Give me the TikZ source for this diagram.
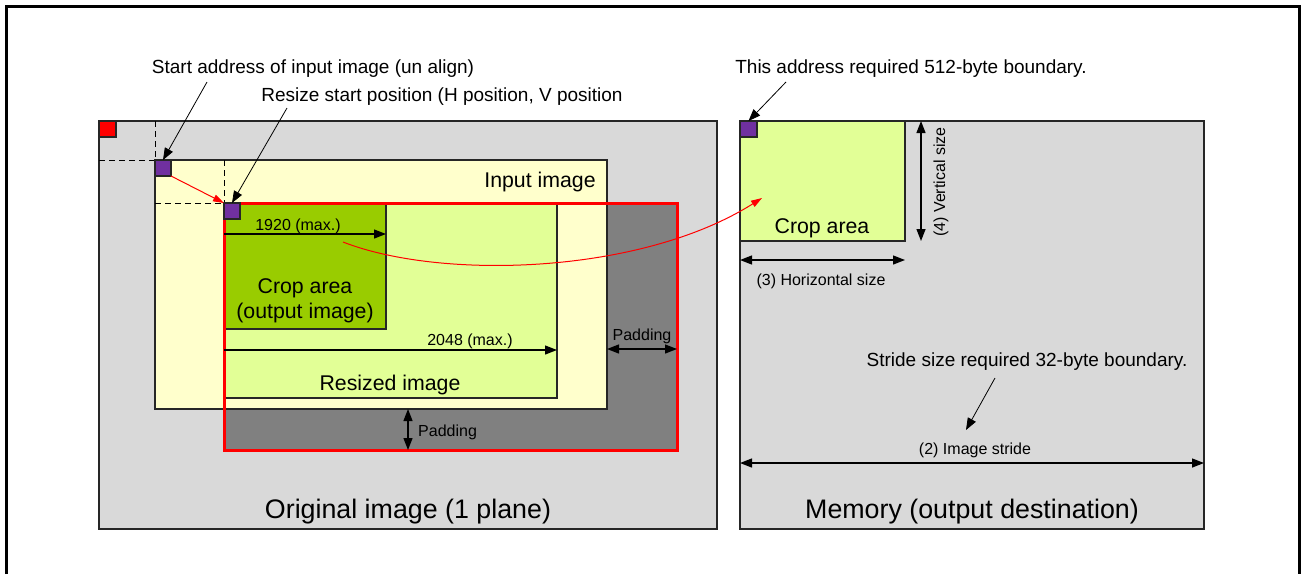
\documentclass[tikz,border=0pt]{standalone}
\usepackage{fontspec}
\setmainfont{Liberation Sans}
\usetikzlibrary{arrows.meta}
\definecolor{bggray}{HTML}{D9D9D9}
\definecolor{inyellow}{HTML}{FFFFCC}
\definecolor{resgreen}{HTML}{E2FF96}
\definecolor{cropgreen}{HTML}{99CC00}
\definecolor{padgray}{HTML}{808080}
\definecolor{purp}{HTML}{7030A0}
\definecolor{redc}{HTML}{FF0000}
\begin{document}
\begin{tikzpicture}[x=1pt,y=-1pt,
  box/.style={draw=black!85, line width=1.6pt, inner sep=0pt, outer sep=0pt, anchor=north west},
  sq/.style={box, minimum width=16, minimum height=16, fill=purp},
  ann/.style={font=\fontsize{19}{23}\selectfont, inner sep=0pt, yshift=-1pt},
  lbl/.style={font=\fontsize{16}{19}\selectfont, inner sep=0pt, yshift=-1pt},
  mid/.style={font=\fontsize{21.3}{25}\selectfont, inner sep=0pt, align=center, yshift=-2pt},
  big/.style={font=\fontsize{26.8}{31}\selectfont, inner sep=0pt, yshift=-3pt},
  dim/.style={line width=1.3pt, -{Triangle[length=12pt,width=9pt]}},
  ddim/.style={line width=1.3pt, {Triangle[length=12pt,width=9pt]}-{Triangle[length=12pt,width=9pt]}},
  pointer/.style={line width=0.8pt, -{Triangle[length=12pt,width=9pt]}},
  redarrow/.style={draw=redc, line width=1pt, -{Triangle[length=11pt,width=7pt]}, color=redc},
  guide/.style={dashed, line width=0.9pt, dash pattern=on 6pt off 4pt}
]
\useasboundingbox (0,0) rectangle (1301,574);
% outer frame
\draw[line width=3pt] (6,574) -- (6,6) -- (1299,6) -- (1299,574);

% ---------- left: original image ----------
\node[box, fill=bggray, minimum width=618, minimum height=408] (orig) at (99,121) {};
\node[box, fill=redc, minimum width=17, minimum height=16] (origsq) at (99,121) {};
\draw[guide] (orig.north west -| 155,0) -- (155,160);
\draw[guide] (orig.west |- 0,160) -- (155,160);

% padding region fill
\node[box, draw=none, fill=padgray, minimum width=453, minimum height=247] (padfill) at (224,203) {};
% input image
\node[box, fill=inyellow, minimum width=452, minimum height=249] (input) at (155,160) {};
\draw[guide] (224,160) -- (224,203);
\draw[guide] (155,203) -- (224,203);
% resized image
\node[box, fill=resgreen, minimum width=333, minimum height=195] (resized) at (224,203) {};
% crop area
\node[box, fill=cropgreen, minimum width=162, minimum height=126] (crop) at (224,203) {};
% red padding border
\node[box, draw=redc, line width=3pt, minimum width=453, minimum height=247] (pad) at (224,203) {};

\node[sq] (p1) at (155,160) {};
\node[sq] (p2) at (224,203) {};

% texts
\node[mid] (inlbl) at (540,180) {Input image};
\node[mid] (croplbl) at (305,299) {Crop area\\(output image)};
\node[mid] (reslbl) at (390,383) {Resized image};
\node[big] (origlbl) at (408,509) {Original image (1 plane)};

% dimension arrows
\coordinate (d1a) at (224,234);
\draw[dim] (d1a) -- (crop.east |- d1a);
\node[lbl] (l1920) at (298,225) {1920 (max.)};
\coordinate (d2a) at (224,350);
\draw[dim] (d2a) -- (resized.east |- d2a);
\node[lbl] (l2048) at (470,340) {2048 (max.)};
\coordinate (pha) at (607,349);
\draw[ddim] (input.east |- pha) -- (pad.east |- pha);
\node[lbl] (padh) at (642,335) {Padding};
\coordinate (pva) at (408,409);
\draw[ddim] (input.south -| pva) -- (pad.south -| pva);
\node[lbl, anchor=west] (padv) at (418,431) {Padding};

% annotations
\node[ann] (a1) at (313,68) {Start address of input image (un align)};
\node[ann] (a2) at (442,96) {Resize start position (H position, V position};
\coordinate (a1s) at (207,82);
\coordinate (a2s) at (287,108);
\draw[pointer] (a1s) -- (p1.north);
\draw[pointer] (a2s) -- (p2.north);
\draw[redarrow] (p1.south east) -- (p2.north west);

% ---------- right: memory ----------
\node[box, fill=bggray, minimum width=464, minimum height=408] (mem) at (740,121) {};
\node[box, fill=resgreen, minimum width=165, minimum height=120] (mcrop) at (740,121) {};
\node[sq, minimum width=17] (p3) at (740,121) {};
\node[mid] (mcroplbl) at (822,226) {Crop area};

\node[ann] (a3) at (911,68) {This address required 512-byte boundary.};
\coordinate (a3s) at (786,82);
\draw[pointer] (a3s) -- (p3.north);

\coordinate (vs) at (921,0);
\draw[ddim] (mcrop.north -| vs) -- (mcrop.south -| vs);
\node[lbl, rotate=90, yshift=1pt] (vlbl) at (942,181) {(4) Vertical size};
\coordinate (hs) at (0,260);
\draw[ddim] (mcrop.west |- hs) -- (mcrop.east |- hs);
\node[lbl] (hlbl) at (821,280) {(3) Horizontal size};

\node[ann] (a4) at (1027,361) {Stride size required 32-byte boundary.};
\coordinate (a4s) at (995,378);
\coordinate (a4e) at (966,430);
\draw[pointer] (a4s) -- (a4e);
\node[lbl] (slbl) at (975,449) {(2) Image stride};
\coordinate (ss) at (0,463);
\draw[ddim] (mem.west |- ss) -- (mem.east |- ss);
\node[big] (memlbl) at (972,509) {Memory (output destination)};

% red curve from crop area to memory crop
\coordinate (cs) at (343,242);
\coordinate (ce) at (762,198);
\draw[redarrow] (cs) .. controls (440,280) and (640,275) .. (ce);
\end{tikzpicture}
\end{document}
